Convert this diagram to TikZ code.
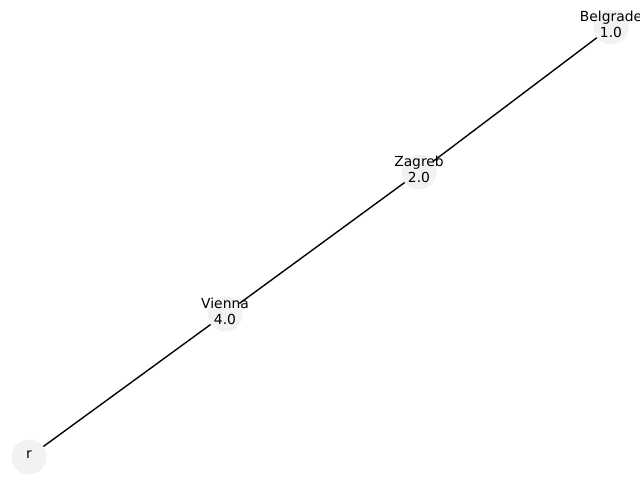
\documentclass[tikz,border=0pt]{standalone}
\usepackage{fontspec}
\setmainfont{DejaVu Sans}
\usetikzlibrary{positioning}

\begin{document}
\begin{tikzpicture}[x=0.01in, y=-0.01in, every node/.style={font=\fontsize{10}{12}\selectfont}, city/.style={circle,fill=black!5,minimum size=0.35in,inner sep=0pt}, citylabel/.style={align=center,yshift=2pt}, road/.style={line width=1pt}]
\clip (0,0) rectangle (640,480);
\node[city,label={[citylabel]center:r}] (r) at (29,457) {};
\node[city,label={[citylabel]center:Vienna\\4.0}] (vienna) at (225,314) {};
\node[city,label={[citylabel]center:Zagreb\\2.0}] (zagreb) at (419,172) {};
\node[city,label={[citylabel]center:Belgrade\\1.0}] (belgrade) at (611,27) {};
\draw[road] (r)--(vienna); \draw[road] (vienna)--(zagreb); \draw[road] (zagreb)--(belgrade);
\end{tikzpicture}
\end{document}
